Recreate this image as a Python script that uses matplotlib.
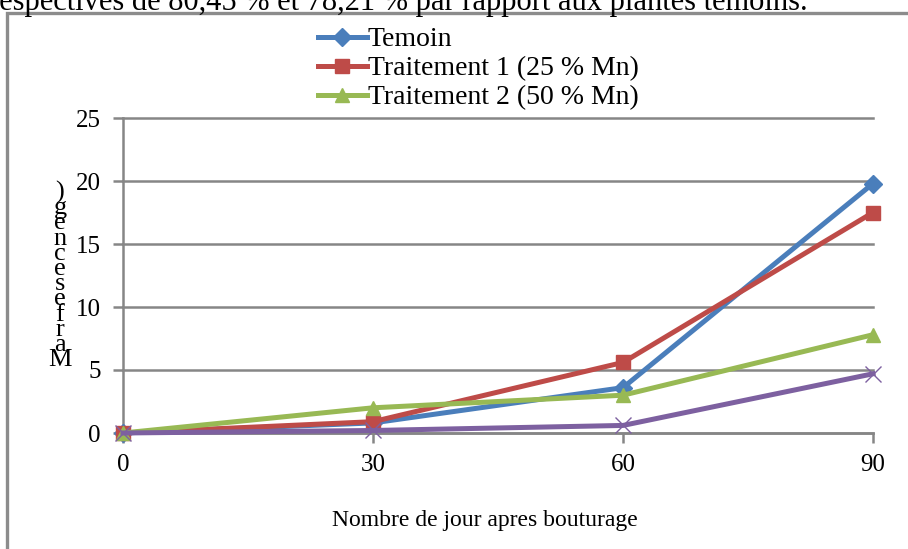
import matplotlib.pyplot as plt
from matplotlib.patches import Rectangle

plt.rcParams['font.family'] = 'Liberation Serif'

jours = [0, 30, 60, 90]
temoin = [0, 0.8, 3.6, 19.8]
trait1 = [0, 0.9, 5.6, 17.5]
trait2 = [0, 2.0, 3.0, 7.8]
serie4 = [0, 0.2, 0.6, 4.7]
y_ticks = [0, 5, 10, 15, 20, 25]
ylabel_chars = [")", "g", "e", "n", "c", "e", "s", "e", "f", "r", "a", "M"]

grey = '#868686'
W, H = 908, 549
fig = plt.figure(figsize=(W / 100, H / 100), dpi=100)

# cropped sentence above the chart
fig.text(-0.012, 1 - 10 / H, "respectives de 80,45 % et 78,21 % par rapport aux plantes temoins.",
         fontsize=22, va='baseline', ha='left')

# chart frame
fig.patches.append(Rectangle((7 / W, -0.05), 1.1, 1 - 13 / H + 0.05, transform=fig.transFigure,
                             fill=False, edgecolor='#8c8c8c', linewidth=2.4))

ax = fig.add_axes([123 / W, 1 - 433 / H, (873 - 123) / W, (433 - 118) / H])
ax.set_xlim(0, 90)
ax.set_ylim(0, 25)

for v in y_ticks:
    ax.axhline(v, color=grey, lw=1.8, zorder=1, clip_on=False)

l1, = ax.plot(jours, temoin, color='#4A7EBB', lw=3.6, marker='D', ms=9, label='Temoin', zorder=3, clip_on=False)
l2, = ax.plot(jours, trait1, color='#BE4B48', lw=3.6, marker='s', ms=10, label='Traitement 1 (25 % Mn)', zorder=4, clip_on=False)
l3, = ax.plot(jours, trait2, color='#98B954', lw=3.6, marker='^', ms=10, label='Traitement 2 (50 % Mn)', zorder=5, clip_on=False)
ax.plot(jours, serie4, color='#7D60A0', lw=3.6, marker='x', ms=11, mew=1, zorder=6, clip_on=False)

for s in ['top', 'right']:
    ax.spines[s].set_visible(False)
for s in ['left', 'bottom']:
    ax.spines[s].set_color(grey)
    ax.spines[s].set_linewidth(1.8)
    ax.spines[s].set_zorder(2)

ax.set_xticks(jours)
ax.set_yticks(y_ticks)
ax.tick_params(axis='both', colors=grey, length=7, width=1.8, labelsize=18, labelcolor='black')
ax.tick_params(axis='y', pad=9)
ax.tick_params(axis='x', pad=8)
ax.set_xlabel("Nombre de jour apres bouturage", fontsize=17)
ax.xaxis.set_label_coords(0.483, -0.243)

fig.text(60 / W, 1 - 276 / H, "\n".join(ylabel_chars), fontsize=19, ha='center', va='center',
         linespacing=0.6)

fig.legend(handles=[l1, l2, l3], loc='upper left', bbox_to_anchor=(318 / W, 1 - 27 / H),
           frameon=False, fontsize=20, handlelength=1.75, handletextpad=0.05,
           labelspacing=0.13, borderpad=0, borderaxespad=0)

fig.savefig('out.png', dpi=100)
